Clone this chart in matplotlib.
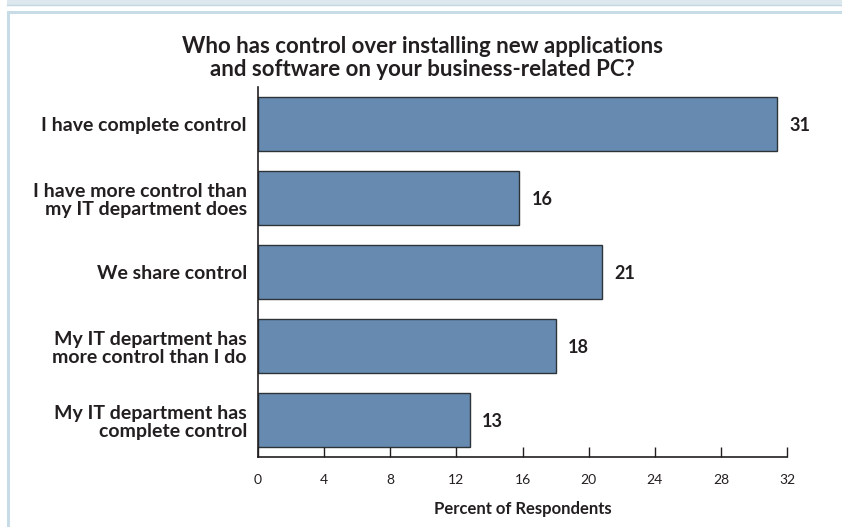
import matplotlib.pyplot as plt
from matplotlib.patches import Rectangle
from matplotlib.lines import Line2D

categories = ['I have complete control',
              'I have more control than\nmy IT department does',
              'We share control',
              'My IT department has\nmore control than I do',
              'My IT department has\ncomplete control']
values = [31.4, 15.8, 20.8, 18.0, 12.8]
xticks = [0, 4, 8, 12, 16, 20, 24, 28, 32]

W, H = 842, 527
fig = plt.figure(figsize=(W / 100, H / 100), dpi=100)
plt.rcParams['font.family'] = ['Lato', 'DejaVu Sans']

# frame decorations (light blue strip on top, panel border)
fig.patches.append(Rectangle((7 / W, 1 - 4.5 / H), 1, 4.5 / H, transform=fig.transFigure,
                             facecolor='#dde8ee', edgecolor='none'))
fig.lines.append(Line2D([7 / W, 1], [1 - 4.5 / H, 1 - 4.5 / H], transform=fig.transFigure,
                        color='#c3d6e2', lw=1))
fig.lines.append(Line2D([8 / W, 8 / W, 1], [0, 1 - 12 / H, 1 - 12 / H], transform=fig.transFigure,
                        color='#c8dce8', lw=2.2, solid_joinstyle='miter'))

ax = fig.add_axes([258 / W, 1 - 457 / H, 529 / W, 370 / H])
pos = list(range(len(categories)))
bars = ax.barh(pos, values, height=0.73, color='#678bb0', edgecolor='#2e3338', linewidth=1)
ax.set_ylim(4.5, -0.5)
ax.set_xlim(0, 32)
ax.set_yticks(pos)
ax.set_yticklabels(categories, fontsize=14, fontweight='bold', color='#231f20', linespacing=1.12)
ax.tick_params(axis='y', length=0, pad=8)
ax.set_xticks(xticks)
ax.set_xticklabels([str(t) for t in xticks], fontsize=10, color='#231f20')
ax.tick_params(axis='x', direction='in', length=7, width=1, pad=12, color='#231f20')
for s in ['top', 'right']:
    ax.spines[s].set_visible(False)
for s in ['left', 'bottom']:
    ax.spines[s].set_linewidth(1.2)
    ax.spines[s].set_color('#231f20')

for b, v in zip(bars, values):
    ax.annotate('%.0f' % v, xy=(v, b.get_y() + b.get_height() / 2), xytext=(9, -1),
                textcoords='offset points', ha='left', va='center',
                fontsize=13, fontweight='bold', color='#231f20')

ax.set_xlabel('Percent of Respondents', fontsize=12, fontweight='bold', color='#231f20', labelpad=11)
fig.text(422 / W, 1 - 58 / H, 'Who has control over installing new applications\nand software on your business-related PC?',
         ha='center', va='center', fontsize=16, fontweight='bold', color='#231f20', linespacing=1.12)

fig.savefig('out.png', dpi=100)
